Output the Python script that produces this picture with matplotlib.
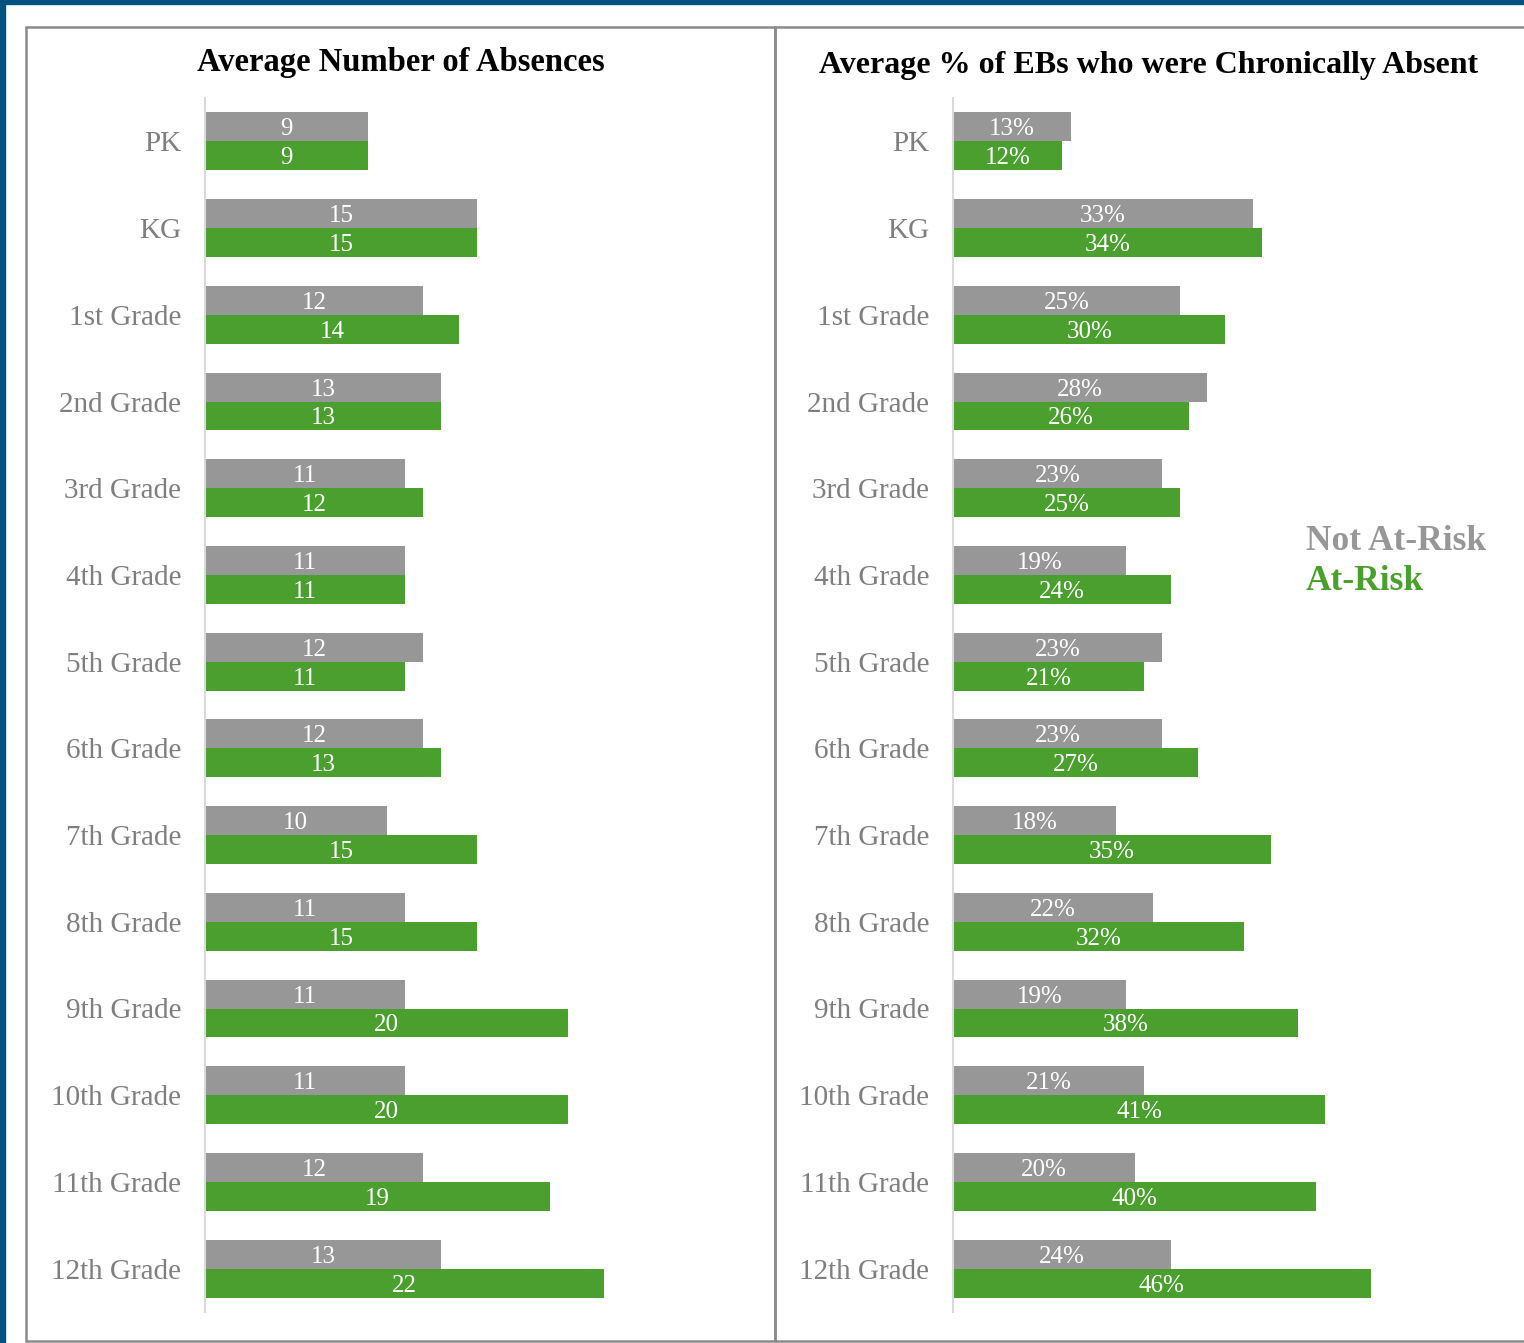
import matplotlib.pyplot as plt
from matplotlib.patches import Rectangle
import numpy as np

# Data
grades = ["PK", "KG", "1st Grade", "2nd Grade", "3rd Grade", "4th Grade", "5th Grade",
          "6th Grade", "7th Grade", "8th Grade", "9th Grade", "10th Grade", "11th Grade",
          "12th Grade"]
abs_not_at_risk = [9, 15, 12, 13, 11, 11, 12, 12, 10, 11, 11, 11, 12, 13]
abs_at_risk = [9, 15, 14, 13, 12, 11, 11, 13, 15, 15, 20, 20, 19, 22]
pct_not_at_risk = [13, 33, 25, 28, 23, 19, 23, 23, 18, 22, 19, 21, 20, 24]
pct_at_risk = [12, 34, 30, 26, 25, 24, 21, 27, 35, 32, 38, 41, 40, 46]

GRAY = "#979797"
GREEN = "#4a9f2e"
BLUE = "#03527f"
LABEL_GRAY = "#7f7f7f"

plt.rcParams["font.family"] = ["Liberation Serif", "DejaVu Serif"]

W, H = 1524, 1343
fig = plt.figure(figsize=(W / 100, H / 100), dpi=100)


def px_rect(x0, y0, x1, y1):
    # pixel box (top-left origin) -> figure fraction [left, bottom, width, height]
    return [x0 / W, 1 - y1 / H, (x1 - x0) / W, (y1 - y0) / H]


# Blue frame on left and top
fig.patches.append(Rectangle((0, 0), 5 / W, 1, transform=fig.transFigure,
                             color=BLUE, zorder=0))
fig.patches.append(Rectangle((0, 1 - 4 / H), 1, 4 / H, transform=fig.transFigure,
                             color=BLUE, zorder=0))

# Panel borders
for x0, x1 in [(26, 775), (775, 1530)]:
    l, b, w, h = px_rect(x0, 27, x1, 1341)
    fig.patches.append(Rectangle((l, b), w, h, transform=fig.transFigure,
                                 fill=False, edgecolor="#8a8a8a", linewidth=1.8, zorder=1))


def draw_panel(rect, top, bottom, xmax, fmt):
    ax = fig.add_axes(rect)
    y = np.arange(len(grades))
    h = 0.334
    b1 = ax.barh(y - h / 2, top, height=h, color=GRAY)
    b2 = ax.barh(y + h / 2, bottom, height=h, color=GREEN)
    for bars, vals in [(b1, top), (b2, bottom)]:
        for bar, v in zip(bars, vals):
            ax.text(v / 2, bar.get_y() + bar.get_height() / 2, fmt.format(v),
                    ha="center", va="center_baseline", color="white", fontsize=18)
    ax.set_ylim(len(grades) - 0.5, -0.5)
    ax.set_xlim(0, xmax)
    ax.set_yticks(y)
    ax.set_yticklabels(grades, fontsize=21, color=LABEL_GRAY)
    ax.tick_params(axis="y", length=0, pad=17)
    ax.set_xticks([])
    for s in ["top", "right", "bottom"]:
        ax.spines[s].set_visible(False)
    ax.spines["left"].set_color("#d9d9d9")
    ax.spines["left"].set_linewidth(1.5)
    ax.patch.set_alpha(0)
    return ax


draw_panel(px_rect(205, 98, 760, 1312), abs_not_at_risk, abs_at_risk, 555 / 18.15, "{}")
draw_panel(px_rect(953, 98, 1520, 1312), pct_not_at_risk, pct_at_risk, 567 / 9.08, "{}%")

# Titles
fig.text(401 / W, 1 - 62 / H, "Average Number of Absences", ha="center", va="center",
         fontsize=23.5, fontweight="bold")
fig.text(1149 / W, 1 - 65 / H, "Average % of EBs who were Chronically Absent",
         ha="center", va="center", fontsize=23, fontweight="bold")

# Legend text
fig.text(1306 / W, 1 - 542 / H, "Not At-Risk", ha="left", va="center",
         fontsize=25.5, fontweight="bold", color=GRAY)
fig.text(1306 / W, 1 - 582 / H, "At-Risk", ha="left", va="center",
         fontsize=25.5, fontweight="bold", color=GREEN)

fig.savefig("out.png", dpi=100)
